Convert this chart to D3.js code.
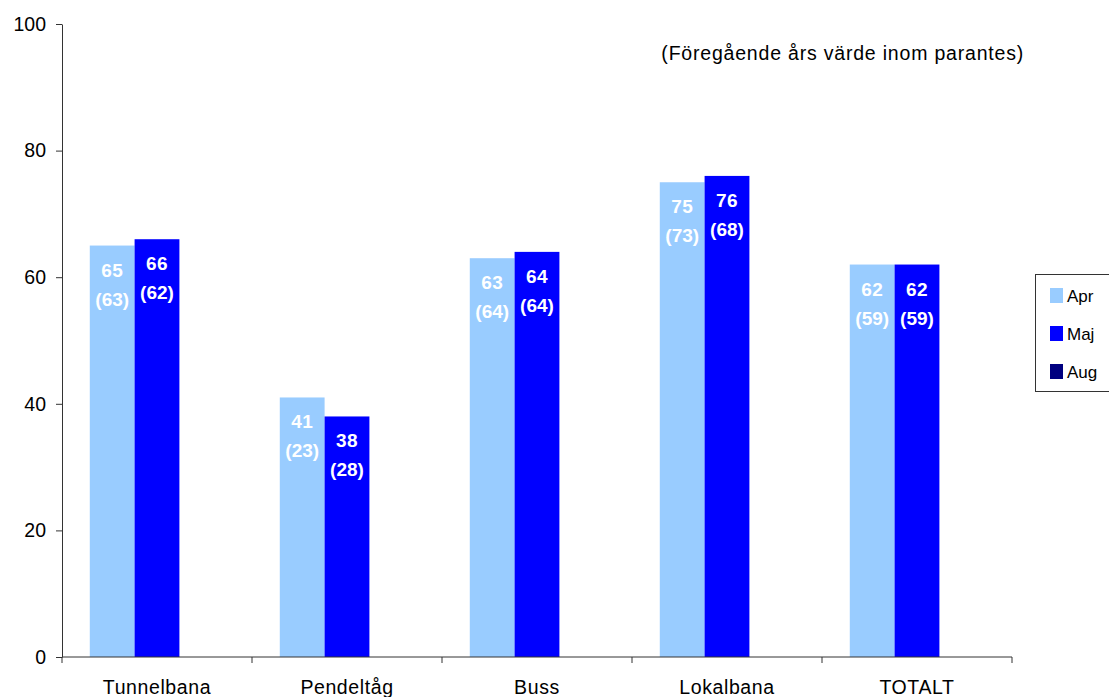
<!DOCTYPE html>
<html>
<head>
<meta charset="utf-8">
<script src="https://cdn.jsdelivr.net/npm/d3@7/dist/d3.min.js"></script>
<style>
  body { margin: 0; background: #fff; }
  svg { display: block; font-family: "Liberation Sans", Arial, sans-serif; }
</style>
</head>
<body>
<svg id="chart" width="1109" height="697"></svg>
<script>
// Categories and series
const categories = ["Tunnelbana", "Pendeltåg", "Buss", "Lokalbana", "TOTALT"];
const series = ["Apr", "Maj", "Aug"];
const aprValues = [65, 41, 63, 75, 62];
const majValues = [66, 38, 64, 76, 62];
const augValues = [null, null, null, null, null];
// Previous year's values shown in parentheses
const aprPrev = [63, 23, 64, 73, 59];
const majPrev = [62, 28, 64, 68, 59];
const yTicks = [0, 20, 40, 60, 80, 100];
const colors = ["#99CCFF", "#0000FF", "#000080"];

const svg = d3.select("#chart");
const margin = { left: 62, right: 97, top: 24, bottom: 40 };
const plotW = 1012 - margin.left;
const plotH = 657 - margin.top;
const fs = 19.5;

const g = svg.append("g").attr("transform", `translate(${margin.left},${margin.top})`);

const x0 = d3.scaleBand().domain(categories).range([0, plotW]).paddingInner(0).paddingOuter(0);
const x1 = d3.scaleBand().domain(series).range([0, x0.bandwidth()]).paddingInner(0).paddingOuter(0.62);
const y = d3.scaleLinear().domain([0, 100]).range([plotH, 0]);

// Bars
const valueSets = [aprValues, majValues, augValues];
const prevSets = [aprPrev, majPrev, augValues];
const barData = [];
categories.forEach((c, i) => {
  series.forEach((s, j) => {
    if (valueSets[j][i] != null) {
      barData.push({ cat: c, ser: s, v: valueSets[j][i], p: prevSets[j][i], color: colors[j] });
    }
  });
});

g.selectAll("rect.bar").data(barData).enter().append("rect")
  .attr("class", "bar")
  .attr("x", d => x0(d.cat) + x1(d.ser))
  .attr("y", d => y(d.v))
  .attr("width", x1.bandwidth())
  .attr("height", d => plotH - y(d.v))
  .attr("fill", d => d.color);

// Value labels inside bars
const lbl = g.selectAll("g.lbl").data(barData).enter().append("g")
  .attr("class", "lbl")
  .attr("transform", d => `translate(${x0(d.cat) + x1(d.ser) + x1.bandwidth() / 2},${y(d.v)})`);
lbl.append("text")
  .attr("y", 31).attr("text-anchor", "middle")
  .attr("font-size", 19).attr("font-weight", "bold").attr("fill", "#fff")
  .attr("letter-spacing", 0.5)
  .text(d => d.v);
lbl.append("text")
  .attr("y", 60).attr("text-anchor", "middle")
  .attr("font-size", 19).attr("font-weight", "bold").attr("fill", "#fff")
  .text(d => `(${d.p})`);

// Y axis
const yAxis = g.append("g")
  .call(d3.axisLeft(y).tickValues(yTicks).tickSize(6).tickPadding(10).tickSizeOuter(0));
yAxis.select(".domain").attr("stroke", "#333");
yAxis.selectAll(".tick line").attr("stroke", "#333");
yAxis.selectAll("text").attr("font-size", fs).attr("fill", "#000")
  .attr("font-family", "Liberation Sans, Arial, sans-serif");

// X axis with ticks at category boundaries
const xAxis = g.append("g").attr("transform", `translate(0,${plotH})`);
xAxis.append("line").attr("x1", 0).attr("x2", plotW).attr("y1", 0).attr("y2", 0).attr("stroke", "#333");
const bounds = categories.map(c => x0(c)).concat([plotW]);
xAxis.selectAll("line.tk").data(bounds).enter().append("line")
  .attr("class", "tk")
  .attr("x1", d => d).attr("x2", d => d).attr("y1", 0).attr("y2", 6).attr("stroke", "#333");
xAxis.selectAll("text.cat").data(categories).enter().append("text")
  .attr("class", "cat")
  .attr("x", d => x0(d) + x0.bandwidth() / 2)
  .attr("y", 37)
  .attr("text-anchor", "middle").attr("font-size", fs).attr("letter-spacing", 0.6).attr("fill", "#000")
  .text(d => d);

// Note
svg.append("text")
  .attr("x", 1024).attr("y", 60).attr("text-anchor", "end")
  .attr("font-size", fs).attr("letter-spacing", 0.8).attr("fill", "#000")
  .text("(Föregående års värde inom parantes)");

// Legend
const lg = svg.append("g").attr("transform", "translate(1035,274)");
lg.append("rect").attr("x", 0.5).attr("y", 0.5).attr("width", 80).attr("height", 117)
  .attr("fill", "#fff").attr("stroke", "#333");
series.forEach((s, i) => {
  const row = lg.append("g").attr("transform", `translate(15,${14 + i * 38})`);
  row.append("rect").attr("width", 13).attr("height", 15).attr("fill", colors[i]);
  row.append("text").attr("x", 17).attr("y", 14).attr("font-size", 17).attr("fill", "#000").text(s);
});
</script>
</body>
</html>
